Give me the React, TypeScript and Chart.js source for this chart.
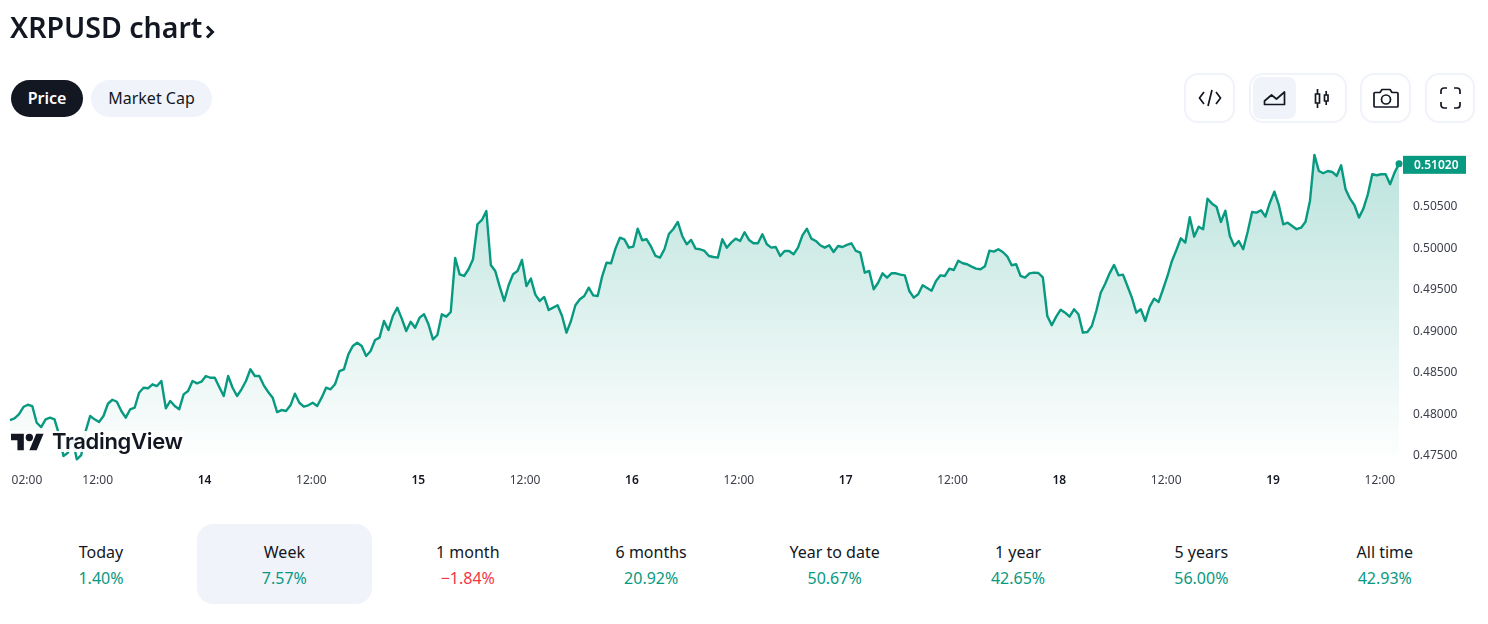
import React, { useEffect, useRef } from "react";
import { Chart, registerables } from "chart.js";

Chart.register(...registerables);

// XRPUSD price, one reading every 30 minutes
const pricesA = [
  0.47934, 0.47954, 0.48002, 0.4809, 0.48118, 0.48102, 0.47901, 0.47849, 0.47942, 0.47962, 0.47942, 0.47761, 0.475,
  0.4754, 0.4772, 0.4746, 0.47512, 0.47801, 0.47982, 0.47942, 0.4791, 0.47982, 0.4813, 0.48178, 0.48154, 0.48042,
  0.47962, 0.48063, 0.48082, 0.48263, 0.48323, 0.48316, 0.48364, 0.48343, 0.48404, 0.48075, 0.48163, 0.48102, 0.48063,
  0.48243, 0.48283, 0.48404, 0.48376, 0.48395, 0.48464, 0.48443, 0.48443, 0.48331, 0.48223, 0.48464, 0.48323, 0.48223,
  0.48304,
];
const pricesB = [
  0.48404, 0.48545, 0.48464, 0.48464, 0.48352, 0.48271, 0.48203, 0.4803, 0.48054, 0.48042, 0.48111, 0.48251, 0.48142,
  0.48094, 0.48111, 0.48142, 0.48102, 0.48203, 0.48323, 0.48304, 0.48364, 0.48524, 0.48545, 0.48725, 0.48825, 0.48865,
  0.48825, 0.48705, 0.48765, 0.48898, 0.48926, 0.49127, 0.49018, 0.49187, 0.49287, 0.49155, 0.49006, 0.49118, 0.49046,
  0.49167, 0.49207, 0.49087, 0.48906, 0.48958, 0.49207, 0.49179, 0.49235, 0.49886, 0.49689, 0.49669, 0.4975, 0.4987,
];
const pricesC = [
  0.50292, 0.50344, 0.50452, 0.49802, 0.49729, 0.4954, 0.49368, 0.49557, 0.49689, 0.49729, 0.49862, 0.49548, 0.49637,
  0.49444, 0.49368, 0.49416, 0.49259, 0.49287, 0.49316, 0.49187, 0.48986, 0.49127, 0.49316, 0.49388, 0.49428, 0.49528,
  0.49436, 0.49428, 0.49661, 0.49829, 0.49822, 0.49998, 0.5013, 0.50111, 0.5001, 0.50022, 0.50239, 0.50099, 0.50111,
  0.50022, 0.4991, 0.4989, 0.49991, 0.50175, 0.50235, 0.5032, 0.50151, 0.50051, 0.50103, 0.49998, 0.49991, 0.4997,
];
const pricesD = [
  0.4991, 0.49898, 0.4989, 0.50111, 0.5001, 0.50071, 0.50119, 0.50091, 0.50196, 0.50103, 0.50063, 0.50063, 0.50171,
  0.50051, 0.5001, 0.50018, 0.4991, 0.4997, 0.4997, 0.4993, 0.5001, 0.50159, 0.50239, 0.50119, 0.50091, 0.50039, 0.5001,
  0.50039, 0.49958, 0.5003, 0.50018, 0.50043, 0.50063, 0.4997, 0.4995, 0.49709, 0.49729, 0.49509, 0.49588, 0.49701,
  0.49649, 0.49701, 0.49701, 0.49685, 0.49677, 0.49488, 0.49408, 0.49448, 0.49557, 0.49524, 0.49492, 0.49609,
];
const pricesE = [
  0.49677, 0.49669, 0.49757, 0.49741, 0.49853, 0.49822, 0.4981, 0.49781, 0.49757, 0.4975, 0.49786, 0.49974, 0.49962,
  0.49991, 0.49958, 0.49906, 0.49798, 0.4981, 0.49669, 0.49649, 0.49701, 0.49709, 0.49705, 0.49653, 0.49187, 0.49075,
  0.49179, 0.49263, 0.49227, 0.49179, 0.49268, 0.49207, 0.48986, 0.48994, 0.49066, 0.49247, 0.49468, 0.49576, 0.49701,
  0.49802, 0.49677, 0.49685, 0.49548, 0.49408, 0.49227, 0.49268, 0.49127, 0.49299, 0.49396, 0.49356, 0.49509, 0.49669,
];
const pricesF = [
  0.4985, 0.49982, 0.50123, 0.50071, 0.50376, 0.50143, 0.50263, 0.50232, 0.506, 0.5054, 0.50504, 0.5032, 0.50456,
  0.50151, 0.5003, 0.50091, 0.49991, 0.50199, 0.5044, 0.50432, 0.50461, 0.50384, 0.50552, 0.50685, 0.50525, 0.50292,
  0.50311, 0.50272, 0.50232, 0.50251, 0.50323, 0.50573, 0.51127, 0.50934, 0.50907, 0.50934, 0.50922, 0.50874, 0.51003,
  0.50714, 0.506, 0.50521, 0.50372, 0.5048, 0.50653, 0.50894, 0.50882, 0.50894, 0.50894, 0.50774, 0.50914, 0.5102,
];
const prices = [...pricesA, ...pricesB, ...pricesC, ...pricesD, ...pricesE, ...pricesF];

const stepHours = 0.5;
const timeTickHours = [1.9, 9.85, 21.85, 33.85, 45.85, 57.85, 69.85, 81.85, 93.85, 105.85, 117.85, 129.85, 141.85, 153.85];
const timeTickLabels = ["02:00", "12:00", "14", "12:00", "15", "12:00", "16", "12:00", "17", "12:00", "18", "12:00", "19", "12:00"];
const priceTicks = [0.475, 0.48, 0.485, 0.49, 0.495, 0.5, 0.505];

const periodLabels = ["Today", "Week", "1 month", "6 months", "Year to date", "1 year", "5 years", "All time"];
const periodChanges = ["1.40%", "7.57%", "\u22121.84%", "20.92%", "50.67%", "42.65%", "56.00%", "42.93%"];
const periodNegative = [false, false, true, false, false, false, false, false];

const GREEN = "#089981";
const RED = "#F23645";
const INK = "#131722";
const SOFT = "#F0F3FA";
const UI_FONT = '"Noto Sans", sans-serif';

const lastPricePlugin = {
  id: "lastPrice",
  afterDraw(chart: any) {
    const { ctx, scales } = chart;
    const last = prices[prices.length - 1];
    const y = scales.y.getPixelForValue(last);
    const left = scales.y.left + 4;
    ctx.save();
    ctx.fillStyle = GREEN;
    ctx.fillRect(left, y - 8, 63, 18);
    ctx.fillStyle = "#fff";
    ctx.font = '600 12px "Noto Sans", sans-serif';
    ctx.textAlign = "left";
    ctx.textBaseline = "middle";
    ctx.fillText(last.toFixed(5), left + 11, y + 1.5);
    ctx.restore();
  },
};

function Box({ x, y, w, h, r, bg, border, children }: any) {
  return (
    <div
      style={{
        position: "absolute",
        left: x,
        top: y,
        width: w,
        height: h,
        boxSizing: "border-box",
        borderRadius: r,
        background: bg,
        border: border ? `2px solid ${SOFT}` : undefined,
      }}
    >
      {children}
    </div>
  );
}

function Icon({ x, y, w, h, children }: any) {
  return (
    <svg
      style={{ position: "absolute", left: x, top: y }}
      width={w}
      height={h}
      viewBox={`0 0 ${w} ${h}`}
      fill="none"
      stroke={INK}
      strokeWidth={1.7}
    >
      {children}
    </svg>
  );
}

export default function App() {
  const canvasRef = useRef<HTMLCanvasElement>(null);

  useEffect(() => {
    const chart = new Chart(canvasRef.current as HTMLCanvasElement, {
      type: "line",
      plugins: [lastPricePlugin],
      data: {
        datasets: [
          {
            data: prices.map((p, i) => ({ x: i * stepHours, y: p })),
            borderColor: GREEN,
            borderWidth: 2.4,
            borderJoinStyle: "round",
            tension: 0,
            clip: false,
            pointRadius: (c: any) => (c.dataIndex === prices.length - 1 ? 3.5 : 0),
            pointBackgroundColor: GREEN,
            pointBorderWidth: 0,
            fill: "start",
            backgroundColor: (c: any) => {
              const area = c.chart.chartArea;
              if (!area) return "rgba(8,153,129,0.2)";
              const g = c.chart.ctx.createLinearGradient(0, 150, 0, area.bottom);
              g.addColorStop(0, "rgba(8,153,129,0.28)");
              g.addColorStop(1, "rgba(8,153,129,0)");
              return g;
            },
          },
        ],
      },
      options: {
        animation: false,
        responsive: false,
        parsing: false as any,
        normalized: true,
        layout: { padding: { left: 10, top: 141, right: 0, bottom: 0 } },
        plugins: { legend: { display: false }, tooltip: { enabled: false } },
        scales: {
          x: {
            type: "linear",
            min: 0,
            max: 156,
            grid: { display: false, drawTicks: false },
            border: { display: false },
            afterBuildTicks: (s: any) => {
              s.ticks = timeTickHours.map((value) => ({ value }));
            },
            afterFit: (s: any) => {
              s.height = 36;
            },
            ticks: {
              autoSkip: false,
              maxRotation: 0,
              padding: 9,
              color: (c: any) => (timeTickLabels[c.index]?.includes(":") ? "#3d404b" : INK),
              font: (c: any) => ({
                family: UI_FONT,
                size: 12,
                weight: timeTickLabels[c.index]?.includes(":") ? 400 : 600,
              }),
              callback: (_v: any, i: number) => timeTickLabels[i],
            },
          },
          y: {
            position: "right",
            min: 0.47404,
            max: 0.51295,
            grid: { display: false, drawTicks: false },
            border: { display: false },
            afterBuildTicks: (s: any) => {
              s.ticks = priceTicks.map((value) => ({ value }));
            },
            afterFit: (s: any) => {
              s.width = 89;
            },
            ticks: {
              padding: 14,
              color: "#3d404b",
              font: { family: UI_FONT, size: 12 },
              callback: (v: any) => Number(v).toFixed(5),
            },
          },
        },
      },
    } as any);
    return () => chart.destroy();
  }, []);

  return (
    <div style={{ position: "relative", width: 1488, height: 624, overflow: "hidden", background: "#fff", fontFamily: UI_FONT, color: INK }}>
      <style>{"body{margin:0}"}</style>
      <canvas ref={canvasRef} width={1488} height={500} style={{ position: "absolute", left: 0, top: 0, display: "block" }} />

      <div style={{ position: "absolute", left: 10, top: 6, fontSize: 28.5, lineHeight: "42px", fontWeight: 600, whiteSpace: "nowrap" }}>
        XRPUSD chart
        <svg width="11" height="16" viewBox="0 0 11 16" style={{ marginLeft: 3, verticalAlign: -2 }} fill="none" stroke={INK} strokeWidth="3">
          <path d="M2 2.500l5.500 5.500-5.500 5.500" />
        </svg>
      </div>

      <Box x={11} y={80} w={72} h={37} r={19} bg={INK}>
        <div style={{ textAlign: "center", color: "#fff", fontSize: 16, lineHeight: "37px", fontWeight: 600 }}>Price</div>
      </Box>
      <Box x={91} y={80} w={121} h={37} r={19} bg={SOFT}>
        <div style={{ textAlign: "center", fontSize: 16, lineHeight: "37px" }}>Market Cap</div>
      </Box>

      <Box x={1184} y={73} w={51} h={50} r={14} bg="#fff" border />
      <Box x={1249} y={73} w={98} h={50} r={14} bg="#fff" border />
      <Box x={1253} y={77} w={43} h={42} r={8} bg={SOFT} />
      <Box x={1360} y={73} w={51} h={50} r={14} bg="#fff" border />
      <Box x={1425} y={73} w={50} h={50} r={14} bg="#fff" border />

      <Icon x={1198} y={88} w={24} h={20}>
        <path d="M6 4L1.500 10 6 16M18 4l4.500 6L18 16M14 2l-4 16" />
      </Icon>
      <Icon x={1262} y={88} w={24} h={20}>
        <path d="M2.500 16.500v-3.500l7-6 5 4 8-7v12.500z" strokeLinejoin="round" />
      </Icon>
      <Icon x={1312} y={86} w={20} h={24}>
        <path d="M3.500 8h4v9h-4zM5.500 3v5M5.500 17v5M12.500 9h3.500v6h-3.500zM14.200 5v4M14.200 15v4" />
      </Icon>
      <Icon x={1372} y={86} w={28} h={24}>
        <path d="M3 6.500h5l2-3h8l2 3h5a1 1 0 0 1 1 1V20a1 1 0 0 1-1 1H3a1 1 0 0 1-1-1V7.500a1 1 0 0 1 1-1z" strokeLinejoin="round" />
        <circle cx="14" cy="13.500" r="4.500" />
      </Icon>
      <Icon x={1438} y={86} w={25} h={24}>
        <path d="M3 8V5a3 3 0 0 1 3-3h3M16 2h3a3 3 0 0 1 3 3v3M22 16v3a3 3 0 0 1-3 3h-3M9 22H6a3 3 0 0 1-3-3v-3" />
      </Icon>

      <div style={{ position: "absolute", left: 10, top: 431, width: 173, height: 21, background: "rgba(255,255,255,0.92)" }}>
        <svg width="33" height="26" viewBox="0 0 36 28" style={{ position: "absolute", left: 1, top: -1 }} fill={INK}>
          <path d="M14 22H7V11H0V4h14v18zM28 22h-8l7.500-18h8L28 22z" />
          <circle cx="20" cy="8" r="4" />
        </svg>
        <div style={{ position: "absolute", left: 42, top: -2, fontFamily: "Inter, sans-serif", fontSize: 22, lineHeight: "25px", fontWeight: 600, letterSpacing: -0.3, whiteSpace: "nowrap" }}>
          TradingView
        </div>
      </div>

      <Box x={197} y={524} w={175} h={80} r={16} bg={SOFT} />
      {periodLabels.map((label, i) => (
        <div key={label} style={{ position: "absolute", left: 101 + i * 183.4 - 90, top: 540, width: 180, textAlign: "center", fontSize: 16 }}>
          <div style={{ lineHeight: "24px" }}>{label}</div>
          <div style={{ lineHeight: "24px", marginTop: 2, color: periodNegative[i] ? RED : GREEN }}>{periodChanges[i]}</div>
        </div>
      ))}
    </div>
  );
}
